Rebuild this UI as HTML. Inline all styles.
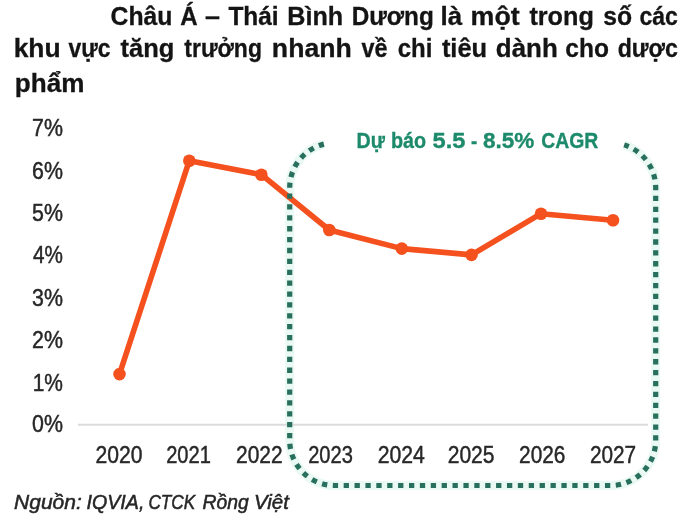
<!DOCTYPE html>
<html lang="vi">
<head>
<meta charset="utf-8">
<title>Châu Á – Thái Bình Dương</title>
<style>
html,body{margin:0;padding:0;background:#fff;}
body{width:700px;height:524px;overflow:hidden;position:relative;}
svg{display:block;position:absolute;left:0;top:0;}
.t{font-family:"Liberation Sans",sans-serif;font-weight:bold;font-size:25px;fill:#141414;stroke:#141414;stroke-width:0.3px;}
.ax{font-family:"Liberation Sans",sans-serif;font-size:23px;fill:#272727;stroke:#272727;stroke-width:0.45px;}
.fc{font-family:"Liberation Sans",sans-serif;font-weight:bold;font-size:22.5px;fill:#1c8a6b;stroke:#1c8a6b;stroke-width:0.35px;}
.src{font-family:"Liberation Sans",sans-serif;font-style:italic;font-size:20px;fill:#262626;stroke:#262626;stroke-width:0.5px;}
</style>
</head>
<body>
<svg width="700" height="524" viewBox="0 0 700 524">
  <rect x="0" y="0" width="700" height="524" fill="#ffffff"/>
  <!-- title -->
  <text class="t" x="110.51" y="24.6" textLength="61.98" lengthAdjust="spacingAndGlyphs">Châu</text>
  <text class="t" x="180.34" y="24.6" textLength="17.39" lengthAdjust="spacingAndGlyphs">Á</text>
  <text class="t" x="205.03" y="24.6" textLength="14.95" lengthAdjust="spacingAndGlyphs">–</text>
  <text class="t" x="228.4" y="24.6" textLength="50.28" lengthAdjust="spacingAndGlyphs">Thái</text>
  <text class="t" x="287.29" y="24.6" textLength="55.87" lengthAdjust="spacingAndGlyphs">Bình</text>
  <text class="t" x="351.65" y="24.6" textLength="82.19" lengthAdjust="spacingAndGlyphs">Dương</text>
  <text class="t" x="440.63" y="24.6" textLength="21.63" lengthAdjust="spacingAndGlyphs">là</text>
  <text class="t" x="470.55" y="24.6" textLength="49.16" lengthAdjust="spacingAndGlyphs">một</text>
  <text class="t" x="529.4" y="24.6" textLength="64.49" lengthAdjust="spacingAndGlyphs">trong</text>
  <text class="t" x="603.31" y="24.6" textLength="28.86" lengthAdjust="spacingAndGlyphs">số</text>
  <text class="t" x="639.38" y="24.6" textLength="38.49" lengthAdjust="spacingAndGlyphs">các</text>
  <text class="t" x="13.69" y="57.4" textLength="46.95" lengthAdjust="spacingAndGlyphs">khu</text>
  <text class="t" x="68.6" y="57.4" textLength="41.94" lengthAdjust="spacingAndGlyphs">vực</text>
  <text class="t" x="120.6" y="57.4" textLength="53.82" lengthAdjust="spacingAndGlyphs">tăng</text>
  <text class="t" x="184.3" y="57.4" textLength="77.66" lengthAdjust="spacingAndGlyphs">trưởng</text>
  <text class="t" x="271.87" y="57.4" textLength="79.9" lengthAdjust="spacingAndGlyphs">nhanh</text>
  <text class="t" x="361.5" y="57.4" textLength="25.96" lengthAdjust="spacingAndGlyphs">về</text>
  <text class="t" x="397.74" y="57.4" textLength="34.64" lengthAdjust="spacingAndGlyphs">chi</text>
  <text class="t" x="441.9" y="57.4" textLength="45.18" lengthAdjust="spacingAndGlyphs">tiêu</text>
  <text class="t" x="495.86" y="57.4" textLength="61.92" lengthAdjust="spacingAndGlyphs">dành</text>
  <text class="t" x="565.32" y="57.4" textLength="43.63" lengthAdjust="spacingAndGlyphs">cho</text>
  <text class="t" x="617.67" y="57.4" textLength="60.21" lengthAdjust="spacingAndGlyphs">dược</text>
  <text class="t" x="14.81" y="92.4" textLength="69.55" lengthAdjust="spacingAndGlyphs">phẩm</text>

  <!-- axis labels -->
  <g class="ax">
    <text x="32.07" y="136" textLength="30.89" lengthAdjust="spacingAndGlyphs">7%</text>
    <text x="32.07" y="178.8" textLength="30.89" lengthAdjust="spacingAndGlyphs">6%</text>
    <text x="32.07" y="220.8" textLength="30.89" lengthAdjust="spacingAndGlyphs">5%</text>
    <text x="33.0" y="262.7" textLength="29.92" lengthAdjust="spacingAndGlyphs">4%</text>
    <text x="32.07" y="305.5" textLength="30.89" lengthAdjust="spacingAndGlyphs">3%</text>
    <text x="32.07" y="348.2" textLength="30.89" lengthAdjust="spacingAndGlyphs">2%</text>
    <text x="32.68" y="390.8" textLength="30.26" lengthAdjust="spacingAndGlyphs">1%</text>
    <text x="32.07" y="432.2" textLength="30.89" lengthAdjust="spacingAndGlyphs">0%</text>
    <text x="95.48" y="463" textLength="46.99" lengthAdjust="spacingAndGlyphs">2020</text>
    <text x="166.13" y="463" textLength="44.7" lengthAdjust="spacingAndGlyphs">2021</text>
    <text x="236.09" y="463" textLength="46.58" lengthAdjust="spacingAndGlyphs">2022</text>
    <text x="308.13" y="463" textLength="44.7" lengthAdjust="spacingAndGlyphs">2023</text>
    <text x="377.68" y="463" textLength="47.1" lengthAdjust="spacingAndGlyphs">2024</text>
    <text x="447.69" y="463" textLength="46.79" lengthAdjust="spacingAndGlyphs">2025</text>
    <text x="519.1" y="463" textLength="46.26" lengthAdjust="spacingAndGlyphs">2026</text>
    <text x="589.9" y="463" textLength="46.16" lengthAdjust="spacingAndGlyphs">2027</text>
  </g>

  <!-- forecast box (dotted) -->
  <path d="M 323.89 144.12 A 45 45 0 0 0 289.70 187.80 L 289.70 440.50 A 45 45 0 0 0 334.70 485.50 L 610.70 485.50 A 45 45 0 0 0 655.70 440.50 L 655.70 187.80 A 45 45 0 0 0 624.17 144.86" fill="none" stroke="#eaf9f3" stroke-width="9" stroke-linecap="butt"/>
  <!-- axis baseline -->
  <line x1="78" y1="424.7" x2="648" y2="424.7" stroke="#dcdadc" stroke-width="2"/>
  <!-- data line -->
  <polyline points="119.5,374.1 189.3,160.7 261.4,174.7 329.3,230 401.8,248.6 471.5,254.9 541,213.7 613,220.3" fill="none" stroke="#f4511f" stroke-width="5.6" stroke-linejoin="round"/>
  <g fill="#f4511f">
    <circle cx="119.5" cy="374.1" r="6.3"/>
    <circle cx="189.3" cy="160.7" r="6.3"/>
    <circle cx="261.4" cy="174.7" r="6.3"/>
    <circle cx="329.3" cy="230" r="6.3"/>
    <circle cx="401.8" cy="248.6" r="6.3"/>
    <circle cx="471.5" cy="254.9" r="6.3"/>
    <circle cx="541" cy="213.7" r="6.3"/>
    <circle cx="613" cy="220.3" r="6.3"/>
  </g>

  <path d="M 323.89 144.12 A 45 45 0 0 0 289.70 187.80 L 289.70 440.50 A 45 45 0 0 0 334.70 485.50 L 610.70 485.50 A 45 45 0 0 0 655.70 440.50 L 655.70 187.80 A 45 45 0 0 0 624.17 144.86" fill="none" stroke="#296f5d" stroke-width="5.2" stroke-dasharray="5.300 5.587" stroke-linecap="butt"/>
  <g class="fc">
    <text x="356.53" y="147.6" textLength="28.38" lengthAdjust="spacingAndGlyphs">Dự</text>
    <text x="390.92" y="147.6" textLength="35.17" lengthAdjust="spacingAndGlyphs">báo</text>
    <text x="432.55" y="147.6" textLength="32.85" lengthAdjust="spacingAndGlyphs">5.5</text>
    <text x="470.97" y="147.6" textLength="6.25" lengthAdjust="spacingAndGlyphs">-</text>
    <text x="483.0" y="147.6" textLength="51.3" lengthAdjust="spacingAndGlyphs">8.5%</text>
    <text x="541.14" y="147.6" textLength="57.08" lengthAdjust="spacingAndGlyphs">CAGR</text>
  </g>

  <!-- source -->
  <g class="src">
    <text x="14.05" y="508.6" textLength="67.78" lengthAdjust="spacingAndGlyphs">Nguồn:</text>
    <text x="86.62" y="508.6" textLength="57.73" lengthAdjust="spacingAndGlyphs">IQVIA,</text>
    <text x="148.44" y="508.6" textLength="46.69" lengthAdjust="spacingAndGlyphs">CTCK</text>
    <text x="202.43" y="508.6" textLength="46.29" lengthAdjust="spacingAndGlyphs">Rồng</text>
    <text x="253.95" y="508.6" textLength="34.94" lengthAdjust="spacingAndGlyphs">Việt</text>
  </g>
</svg>
</body>
</html>
